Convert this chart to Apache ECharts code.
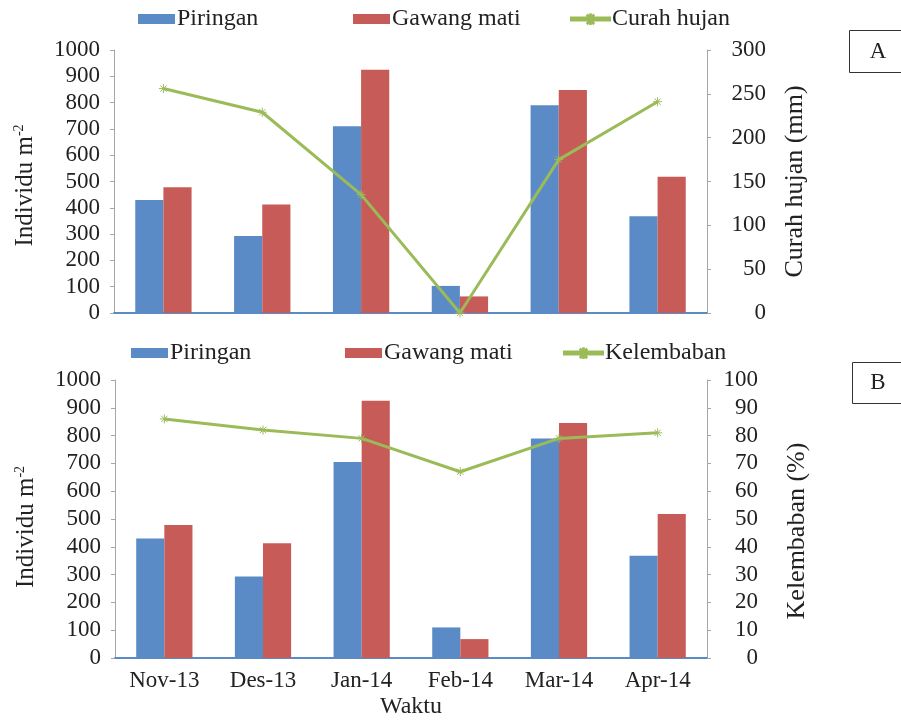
<!DOCTYPE html>
<html>
<head>
<meta charset="utf-8">
<script src="https://cdn.jsdelivr.net/npm/echarts@6/dist/echarts.min.js"></script>
<style>
  html, body { margin: 0; padding: 0; background: #fff; }
  #chart { width: 901px; height: 722px; }
</style>
</head>
<body>
<div id="chart"></div>
<script>
// kategori waktu
var months = ['Nov-13', 'Des-13', 'Jan-14', 'Feb-14', 'Mar-14', 'Apr-14'];
// panel A
var piringanA = [430, 293, 710, 103, 790, 368];
var gawangA = [478, 413, 925, 63, 848, 518];
var curahHujan = [256, 229, 135, 0, 175, 241];
// panel B
var piringanB = [430, 293, 705, 110, 790, 368];
var gawangB = [478, 413, 925, 68, 845, 518];
var kelembaban = [86, 82, 79, 67, 79, 81];

var blue = '#5b8bc6';
var red = '#c75b57';
var green = '#9bbb59';
var font = 'Liberation Serif';
var star = 'path://M0,5L10,5M5,0L5,10M1.5,1.5L8.5,8.5M8.5,1.5L1.5,8.5';
// ikon legenda: garis + bintang kecil
var lineIcon = 'path://M0,3.4L40,3.4L40,6.6L0,6.6Z M16.6,1.4L17.2,0.8L23.4,9.2L22.8,9.8Z M22.8,0.8L23.4,1.4L17.2,9.8L16.6,9.2Z M19.7,0L20.3,0L20.3,10L19.7,10Z';

function leftAxis(grid, shift) {
    return {
        type: 'value', gridIndex: grid, position: 'left',
        min: 0, max: 1000, interval: 100,
        name: 'Individu m{sup|-2}',
        nameLocation: 'middle', nameRotate: 90, nameGap: 76,
        nameTextStyle: {
            fontFamily: font, fontSize: 25, color: '#222',
            padding: [0, shift * 2, 0, 0],
            rich: {sup: {fontFamily: font, fontSize: 14, color: '#222', padding: [0, 0, 12, 0]}}
        },
        axisLine: {show: true, lineStyle: {color: '#a6a6a6', width: 1}},
        axisTick: {show: true, length: 4, lineStyle: {color: '#a6a6a6'}},
        axisLabel: {fontFamily: font, fontSize: 23, color: '#222', margin: 14,
            formatter: function (v) { return String(v); }},
        splitLine: {show: false}
    };
}

function rightAxis(grid, max, step, name, gap, margin, shift) {
    return {
        type: 'value', gridIndex: grid, position: 'right',
        min: 0, max: max, interval: step,
        name: name, nameLocation: 'middle', nameRotate: 90, nameGap: gap,
        nameTextStyle: {fontFamily: font, fontSize: 26, color: '#222', padding: [0, shift * 2, 0, 0]},
        axisLine: {show: true, lineStyle: {color: '#a6a6a6', width: 1}},
        axisTick: {show: true, length: 4, lineStyle: {color: '#a6a6a6'}},
        axisLabel: {fontFamily: font, fontSize: 23, color: '#222', margin: margin, align: 'right'},
        splitLine: {show: false}
    };
}

function legendAt(name, left, top, icon, w) {
    return {
        data: [{name: name, icon: icon}], left: left, top: top, padding: 0,
        itemWidth: w, itemHeight: 10, itemGap: 4,
        textStyle: {fontFamily: font, fontSize: 24, color: '#222', padding: [0, 0, 0, -3]}
    };
}

var option = {
    backgroundColor: '#fff',
    animation: false,
    legend: [
        legendAt('Piringan', 138, 7, 'rect', 37),
        legendAt('Gawang mati', 353, 7, 'rect', 37),
        legendAt('Curah hujan', 570, 7, lineIcon, 39),
        legendAt('Piringan ', 131, 341, 'rect', 37),
        legendAt('Gawang mati ', 345, 341, 'rect', 37),
        legendAt('Kelembaban', 563, 341, lineIcon, 39)
    ],
    grid: [
        {left: 114, right: 194, top: 50, height: 263},
        {left: 115, right: 194, top: 380, height: 278}
    ],
    xAxis: [
        {
            type: 'category', gridIndex: 0, data: months,
            axisLine: {lineStyle: {color: blue, width: 2}},
            axisTick: {show: false}, axisLabel: {show: false}
        },
        {
            type: 'category', gridIndex: 1, data: months,
            name: 'Waktu', nameLocation: 'middle', nameGap: 37,
            nameTextStyle: {fontFamily: font, fontSize: 24, color: '#222'},
            axisLine: {lineStyle: {color: blue, width: 2}},
            axisTick: {show: false},
            axisLabel: {fontFamily: font, fontSize: 23, color: '#222', margin: 11}
        }
    ],
    yAxis: [
        leftAxis(0, 4),
        rightAxis(0, 300, 50, 'Curah hujan (mm)', 75, 59, 0),
        leftAxis(1, 8),
        rightAxis(1, 100, 10, 'Kelembaban (%)', 77, 51, 12)
    ],
    series: [
        {name: 'Piringan', type: 'bar', xAxisIndex: 0, yAxisIndex: 0, data: piringanA,
            itemStyle: {color: blue}, barGap: '0%', barCategoryGap: '43%'},
        {name: 'Gawang mati', type: 'bar', xAxisIndex: 0, yAxisIndex: 0, data: gawangA,
            itemStyle: {color: red}, barGap: '0%', barCategoryGap: '43%'},
        {name: 'Curah hujan', type: 'line', xAxisIndex: 0, yAxisIndex: 1, data: curahHujan,
            symbol: star, symbolSize: 9, z: 5,
            lineStyle: {color: green, width: 3},
            itemStyle: {color: green, borderColor: green, borderWidth: 1}},
        {name: 'Piringan ', type: 'bar', xAxisIndex: 1, yAxisIndex: 2, data: piringanB,
            itemStyle: {color: blue}, barGap: '0%', barCategoryGap: '43%'},
        {name: 'Gawang mati ', type: 'bar', xAxisIndex: 1, yAxisIndex: 2, data: gawangB,
            itemStyle: {color: red}, barGap: '0%', barCategoryGap: '43%'},
        {name: 'Kelembaban', type: 'line', xAxisIndex: 1, yAxisIndex: 3, data: kelembaban,
            symbol: star, symbolSize: 9, z: 5,
            lineStyle: {color: green, width: 3},
            itemStyle: {color: green, borderColor: green, borderWidth: 1}}
    ],
    graphic: [
        {type: 'rect', shape: {x: 849.5, y: 30.5, width: 60, height: 42},
            style: {fill: '#fff', stroke: '#333', lineWidth: 1}},
        {type: 'text', x: 878, y: 52,
            style: {text: 'A', fontFamily: font, fontSize: 23, fill: '#222', align: 'center', verticalAlign: 'middle'}},
        {type: 'rect', shape: {x: 852.5, y: 362.5, width: 60, height: 41},
            style: {fill: '#fff', stroke: '#333', lineWidth: 1}},
        {type: 'text', x: 878, y: 383,
            style: {text: 'B', fontFamily: font, fontSize: 23, fill: '#222', align: 'center', verticalAlign: 'middle'}}
    ]
};

var myChart = echarts.init(document.getElementById('chart'));
myChart.setOption(option);
</script>
</body>
</html>
